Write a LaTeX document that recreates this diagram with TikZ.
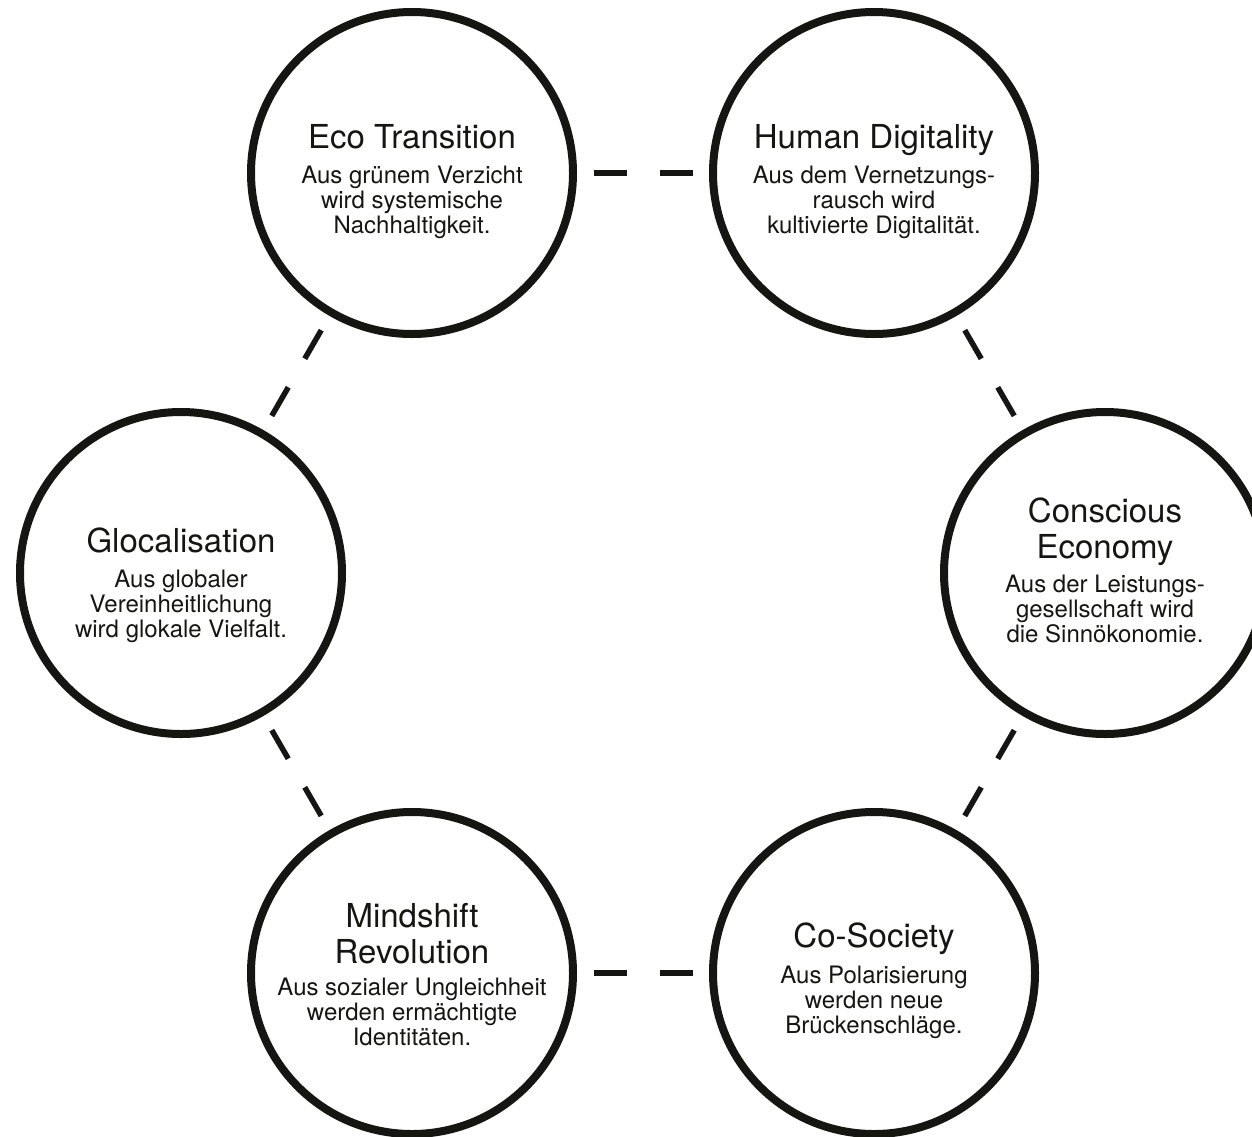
\documentclass[tikz,border=0pt]{standalone}
\usepackage{fontspec}
\setmainfont{TeX Gyre Heros}
\usepackage{tikz}
\definecolor{ink}{RGB}{21,21,17}

\begin{document}
\begin{tikzpicture}[x=1pt,y=1pt,yscale=-1,
  trend/.style={draw=ink,line width=8pt,circle,minimum size=322pt,inner sep=0pt,outer sep=0pt},
  link/.style={draw=ink,line width=5.5pt,dash pattern=on 33pt off 33pt,shorten <=20.5pt,shorten >=20.5pt},
  head/.style={text=ink,font=\fontsize{33}{36}\selectfont,align=center,anchor=base,inner sep=0pt},
  body/.style={text=ink,font=\fontsize{24}{25}\selectfont,align=center,anchor=base,inner sep=0pt}]
%set diagram left start at 0, and has height of 1136
\useasboundingbox (0,0) rectangle (1252,1136);
\clip (0,0) rectangle (1252,1136);

%Shape: Circle
\node[trend] (eco) at (412,173) {};
%Shape: Circle
\node[trend] (hum) at (874,173) {};
%Shape: Circle
\node[trend] (glo) at (181,573) {};
%Shape: Circle
\node[trend] (con) at (1105,573) {};
%Shape: Circle
\node[trend] (mind) at (412,973) {};
%Shape: Circle
\node[trend] (soc) at (874,973) {};

%Dashes
\draw[link] (eco) -- (hum);
\draw[link] (hum) -- (con);
\draw[link] (con) -- (soc);
\draw[link] (soc) -- (mind);
\draw[link] (mind) -- (glo);
\draw[link] (glo) -- (eco);

% Text Node (base = last line)
\node[head] (ecoH) at (412,148) {Eco Transition};
\node[body] (ecoB) at (412,233) {Aus grünem Verzicht\\wird systemische\\Nachhaltigkeit.};
% Text Node
\node[head] (humH) at (874,148) {Human Digitality};
\node[body] (humB) at (874,233) {Aus dem Vernetzungs-\\rausch wird\\kultivierte Digitalität.};
% Text Node
\node[head] (gloH) at (181,552) {Glocalisation};
\node[body] (gloB) at (181,637) {Aus globaler\\Vereinheitlichung\\wird glokale Vielfalt.};
% Text Node
\node[head] (conH) at (1105,558) {Conscious\\Economy};
\node[body] (conB) at (1105,642) {Aus der Leistungs-\\gesellschaft wird\\die Sinnökonomie.};
% Text Node
\node[head] (mindH) at (412,963) {Mindshift\\Revolution};
\node[body] (mindB) at (412,1045) {Aus sozialer Ungleichheit\\werden ermächtigte\\Identitäten.};
% Text Node
\node[head] (socH) at (874,947) {Co-Society};
\node[body] (socB) at (874,1033) {Aus Polarisierung\\werden neue\\Brückenschläge.};

\end{tikzpicture}
\end{document}
